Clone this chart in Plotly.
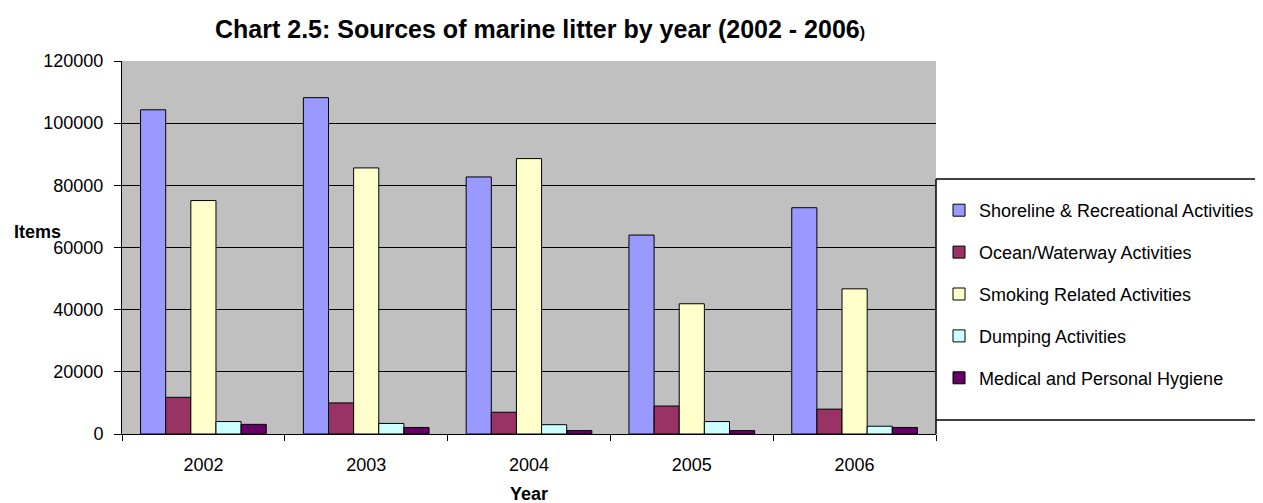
import plotly.graph_objects as go

years = ["2002", "2003", "2004", "2005", "2006"]
series_names = [
    "Shoreline & Recreational Activities",
    "Ocean/Waterway Activities",
    "Smoking Related Activities",
    "Dumping Activities",
    "Medical and Personal Hygiene",
]
shoreline = [104300, 108200, 82700, 64000, 72800]
ocean = [11800, 10000, 7000, 9000, 8000]
smoking = [75100, 85600, 88600, 41900, 46700]
dumping = [4000, 3400, 3000, 4000, 2500]
medical = [3100, 2100, 1100, 1100, 2100]
colors = ["#9999FF", "#993366", "#FFFFCC", "#CCFFFF", "#660066"]

FONT = "Liberation Sans, Arial, sans-serif"

fig = go.Figure()
for i, (name, vals) in enumerate(zip(series_names, [shoreline, ocean, smoking, dumping, medical])):
    fig.add_trace(go.Bar(
        x=years, y=vals, name=name, legendgroup=str(i),
        marker=dict(color=colors[i], line=dict(color="black", width=1)),
    ))

OFF = 8  # page body margin
W, H = 1263 - OFF, 503 - OFF
L, R, T, B = 122, 936, 61, 434  # page coords of plot area

def px_x(p):
    return (p - L) / (R - L)

def px_y(p):
    return (B - p) / (B - T)

fig.update_layout(
    width=W, height=H,
    margin=dict(l=L - OFF, r=W - (R - OFF), t=T - OFF, b=H - (B - OFF), autoexpand=False),
    paper_bgcolor="white",
    plot_bgcolor="#C0C0C0",
    barmode="group",
    bargap=0.228,
    bargroupgap=0,
    font=dict(family=FONT, size=18, color="black"),
    showlegend=True,
    legend=dict(
        x=px_x(939), y=px_y(192), xanchor="left", yanchor="top",
        bgcolor="rgba(0,0,0,0)", borderwidth=0,
        font=dict(family=FONT, size=18, color="black"),
        tracegroupgap=15.5,
        itemclick=False,
    ),
    xaxis=dict(
        showline=True, linecolor="black", linewidth=1,
        ticks="outside", ticklen=6, tickcolor="black", tickson="boundaries",
        ticklabelstandoff=14,
        tickfont=dict(family=FONT, size=18, color="black"),
        showgrid=False,
    ),
    yaxis=dict(
        range=[0, 120000], dtick=20000, tick0=0,
        showline=True, linecolor="black", linewidth=1,
        ticks="outside", ticklen=7, tickcolor="black",
        ticklabelstandoff=7,
        tickfont=dict(family=FONT, size=18, color="black"),
        showgrid=True, gridcolor="black", gridwidth=1,
        zeroline=False,
        tickformat="d",
    ),
    shapes=[
        dict(type="line", xref="paper", yref="paper", x0=px_x(936), x1=px_x(1263), y0=px_y(179), y1=px_y(179),
             line=dict(color="black", width=1.5)),
        dict(type="line", xref="paper", yref="paper", x0=px_x(936), x1=px_x(1263), y0=px_y(420), y1=px_y(420),
             line=dict(color="black", width=1.5)),
        dict(type="line", xref="paper", yref="paper", x0=px_x(936), x1=px_x(936), y0=px_y(179), y1=px_y(434),
             line=dict(color="black", width=1.5)),
    ],
    annotations=[
        dict(text="<b>Chart 2.5: Sources of marine litter by year (2002 - 2006<span style='font-size:16px'>)</span></b>",
             xref="paper", yref="paper", x=px_x(540), y=px_y(29), xanchor="center", yanchor="middle",
             showarrow=False, font=dict(family=FONT, size=25, color="black")),
        dict(text="<b>Items</b>", xref="paper", yref="paper", x=px_x(12), y=px_y(232),
             xanchor="left", yanchor="middle", showarrow=False,
             font=dict(family=FONT, size=18, color="black")),
        dict(text="<b>Year</b>", xref="paper", yref="paper", x=px_x(529), y=px_y(494),
             xanchor="center", yanchor="middle", showarrow=False,
             font=dict(family=FONT, size=18, color="black")),
    ],
)

fig.write_html("out.html")
